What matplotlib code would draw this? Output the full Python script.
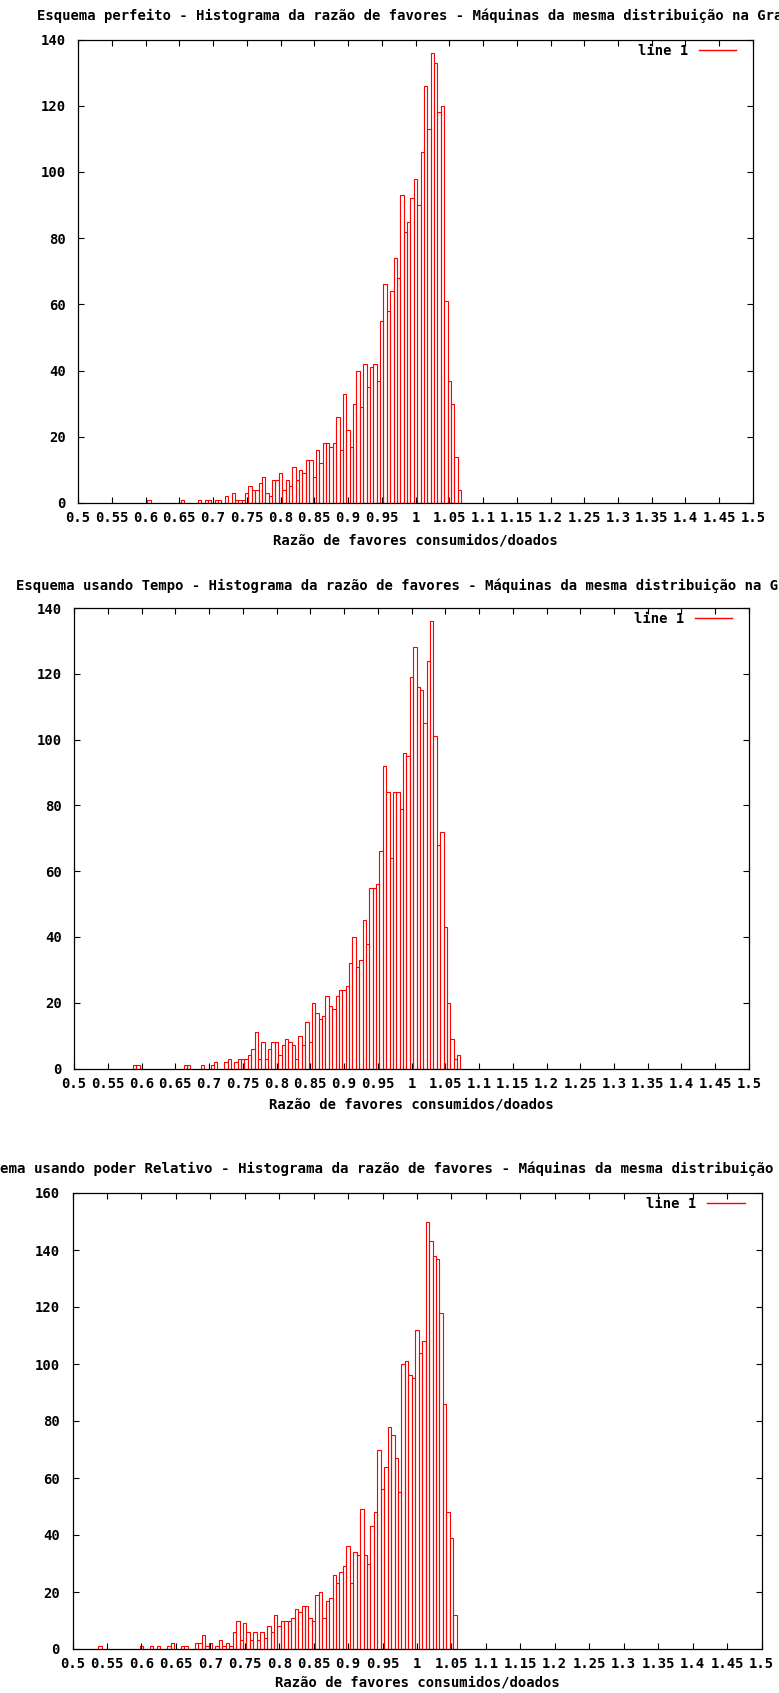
import numpy as np
import matplotlib
matplotlib.use('Agg')
import matplotlib.pyplot as plt
from matplotlib.lines import Line2D

W, H = 779, 1693
BIN = 0.005

# counts per 0.005 bin, starting at the given ratio
start1 = 0.600
counts1 = [0, 1, 0, 0, 0, 0, 0, 0, 0, 0,
           0, 1, 0, 0, 0, 0, 1, 0, 1, 1,
           0, 1, 1, 0, 2, 0, 3, 1, 1, 1,
           3, 5, 4, 4, 6, 8, 3, 2, 7, 7,
           9, 4, 7, 5, 11, 7, 10, 9, 13, 13,
           8, 16, 12, 18, 18, 17, 18, 26, 16, 33,
           22, 17, 30, 40, 29, 42, 35, 41, 42, 37,
           55, 66, 58, 64, 74, 68, 93, 82, 85, 92,
           98, 90, 106, 126, 113, 136, 133, 118, 120, 61,
           37, 30, 14, 4]

start2 = 0.590
counts2 = [1, 1,
           0, 0, 0, 0, 0, 0, 0, 0, 0, 0,
           0, 0, 0, 1, 1, 0, 0, 0, 1, 0,
           0, 1, 2, 0, 0, 2, 3, 0, 2, 3,
           3, 3, 4, 6, 11, 3, 8, 3, 6, 8,
           8, 4, 7, 9, 8, 7, 3, 10, 7, 14,
           8, 20, 17, 15, 16, 22, 19, 18, 22, 24,
           24, 25, 32, 40, 31, 33, 45, 38, 55, 55,
           56, 66, 92, 84, 64, 84, 84, 79, 96, 95,
           119, 128, 116, 115, 105, 124, 136, 101, 68, 72,
           43, 20, 9, 3, 4]

start3 = 0.540
counts3 = [1, 0,
           0, 0, 0, 0, 0, 0, 0, 0, 0, 0,
           1, 0, 0, 1, 0, 1, 0, 0, 1, 2,
           0, 0, 1, 1, 0, 0, 2, 2, 5, 1,
           2, 0, 1, 3, 1, 2, 1, 6, 10, 3,
           9, 6, 3, 6, 3, 6, 4, 8, 6, 12,
           8, 10, 10, 10, 11, 14, 13, 15, 15, 11,
           10, 19, 20, 11, 17, 18, 26, 23, 27, 29,
           36, 23, 34, 33, 49, 33, 30, 43, 48, 70,
           56, 64, 78, 75, 67, 55, 100, 101, 96, 95,
           112, 104, 108, 150, 143, 138, 137, 118, 86, 48,
           39, 12]

titles = [
    'Esquema perfeito - Histograma da razão de favores - Máquinas da mesma distribuição na Grade',
    'Esquema usando Tempo - Histograma da razão de favores - Máquinas da mesma distribuição na Grade',
    'Esquema usando poder Relativo - Histograma da razão de favores - Máquinas da mesma distribuição na Grade',
]
xlabel = 'Razão de favores consumidos/doados'
xticks = [0.5, 0.55, 0.6, 0.65, 0.7, 0.75, 0.8, 0.85, 0.9, 0.95, 1.0,
          1.05, 1.1, 1.15, 1.2, 1.25, 1.3, 1.35, 1.4, 1.45, 1.5]
xtick_labels = ['0.5', '0.55', '0.6', '0.65', '0.7', '0.75', '0.8', '0.85', '0.9', '0.95', '1',
                '1.05', '1.1', '1.15', '1.2', '1.25', '1.3', '1.35', '1.4', '1.45', '1.5']
yticks_a = [0, 20, 40, 60, 80, 100, 120, 140]
yticks_b = [0, 20, 40, 60, 80, 100, 120, 140, 160]

plt.rcParams['font.family'] = ['DejaVu Sans Mono']
plt.rcParams['font.weight'] = 'bold'
plt.rcParams['font.size'] = 10

fig = plt.figure(figsize=(W / 100, H / 100), dpi=100)
fig.patch.set_facecolor('white')

# layout in pixels: (left, top, right, bottom), title left x, title y, title size, xlabel y
layout = [
    ((78, 39.5, 753, 503), 37, 16, 10, 540),
    ((74, 608, 749, 1068.5), 16, 586, 10, 1105),
    ((72.5, 1193, 761.5, 1649), -34, 1169, 10.2, 1683),
]
series = [(start1, counts1, yticks_a), (start2, counts2, yticks_a), (start3, counts3, yticks_b)]

for (box, tx, ty, tsize, xly), (start, counts, yt), title in zip(layout, series, titles):
    l, t, r, b = box
    w_px, h_px = r - l, b - t
    ax = fig.add_axes([l / W, 1 - b / H, w_px / W, h_px / H])
    counts = np.array(counts, dtype=float)
    centers = start + BIN * np.arange(len(counts))
    keep = counts > 0
    ax.bar(centers[keep], counts[keep], width=BIN, fill=False,
           edgecolor='#ff0000', linewidth=0.8)
    ax.set_xlim(0.5, 1.5)
    ax.set_ylim(0, yt[-1])
    ax.set_xticks(xticks)
    ax.set_xticklabels(xtick_labels)
    ax.set_yticks(yt)
    ax.tick_params(direction='in', length=4, width=0.8, top=True, right=True,
                   labelsize=10, colors='black')
    ax.tick_params(axis='x', pad=6)
    ax.tick_params(axis='y', pad=9)
    for s in ax.spines.values():
        s.set_linewidth(0.9)
        s.set_color('black')
    handle = Line2D([], [], color='#ff0000', lw=1)
    ax.legend([handle], ['line 1'], loc='upper right', frameon=False, markerfirst=False,
              handlelength=2.7, handletextpad=0.75, borderpad=0, borderaxespad=0,
              bbox_to_anchor=(1 - 17 / w_px, 1 - 4 / h_px), fontsize=10)
    fig.text(tx / W, 1 - ty / H, title, ha='left', va='center', fontsize=tsize)
    fig.text((l + r) / 2 / W, 1 - xly / H, xlabel, ha='center', va='center', fontsize=10)

fig.savefig('out.png', dpi=100, facecolor='white')
